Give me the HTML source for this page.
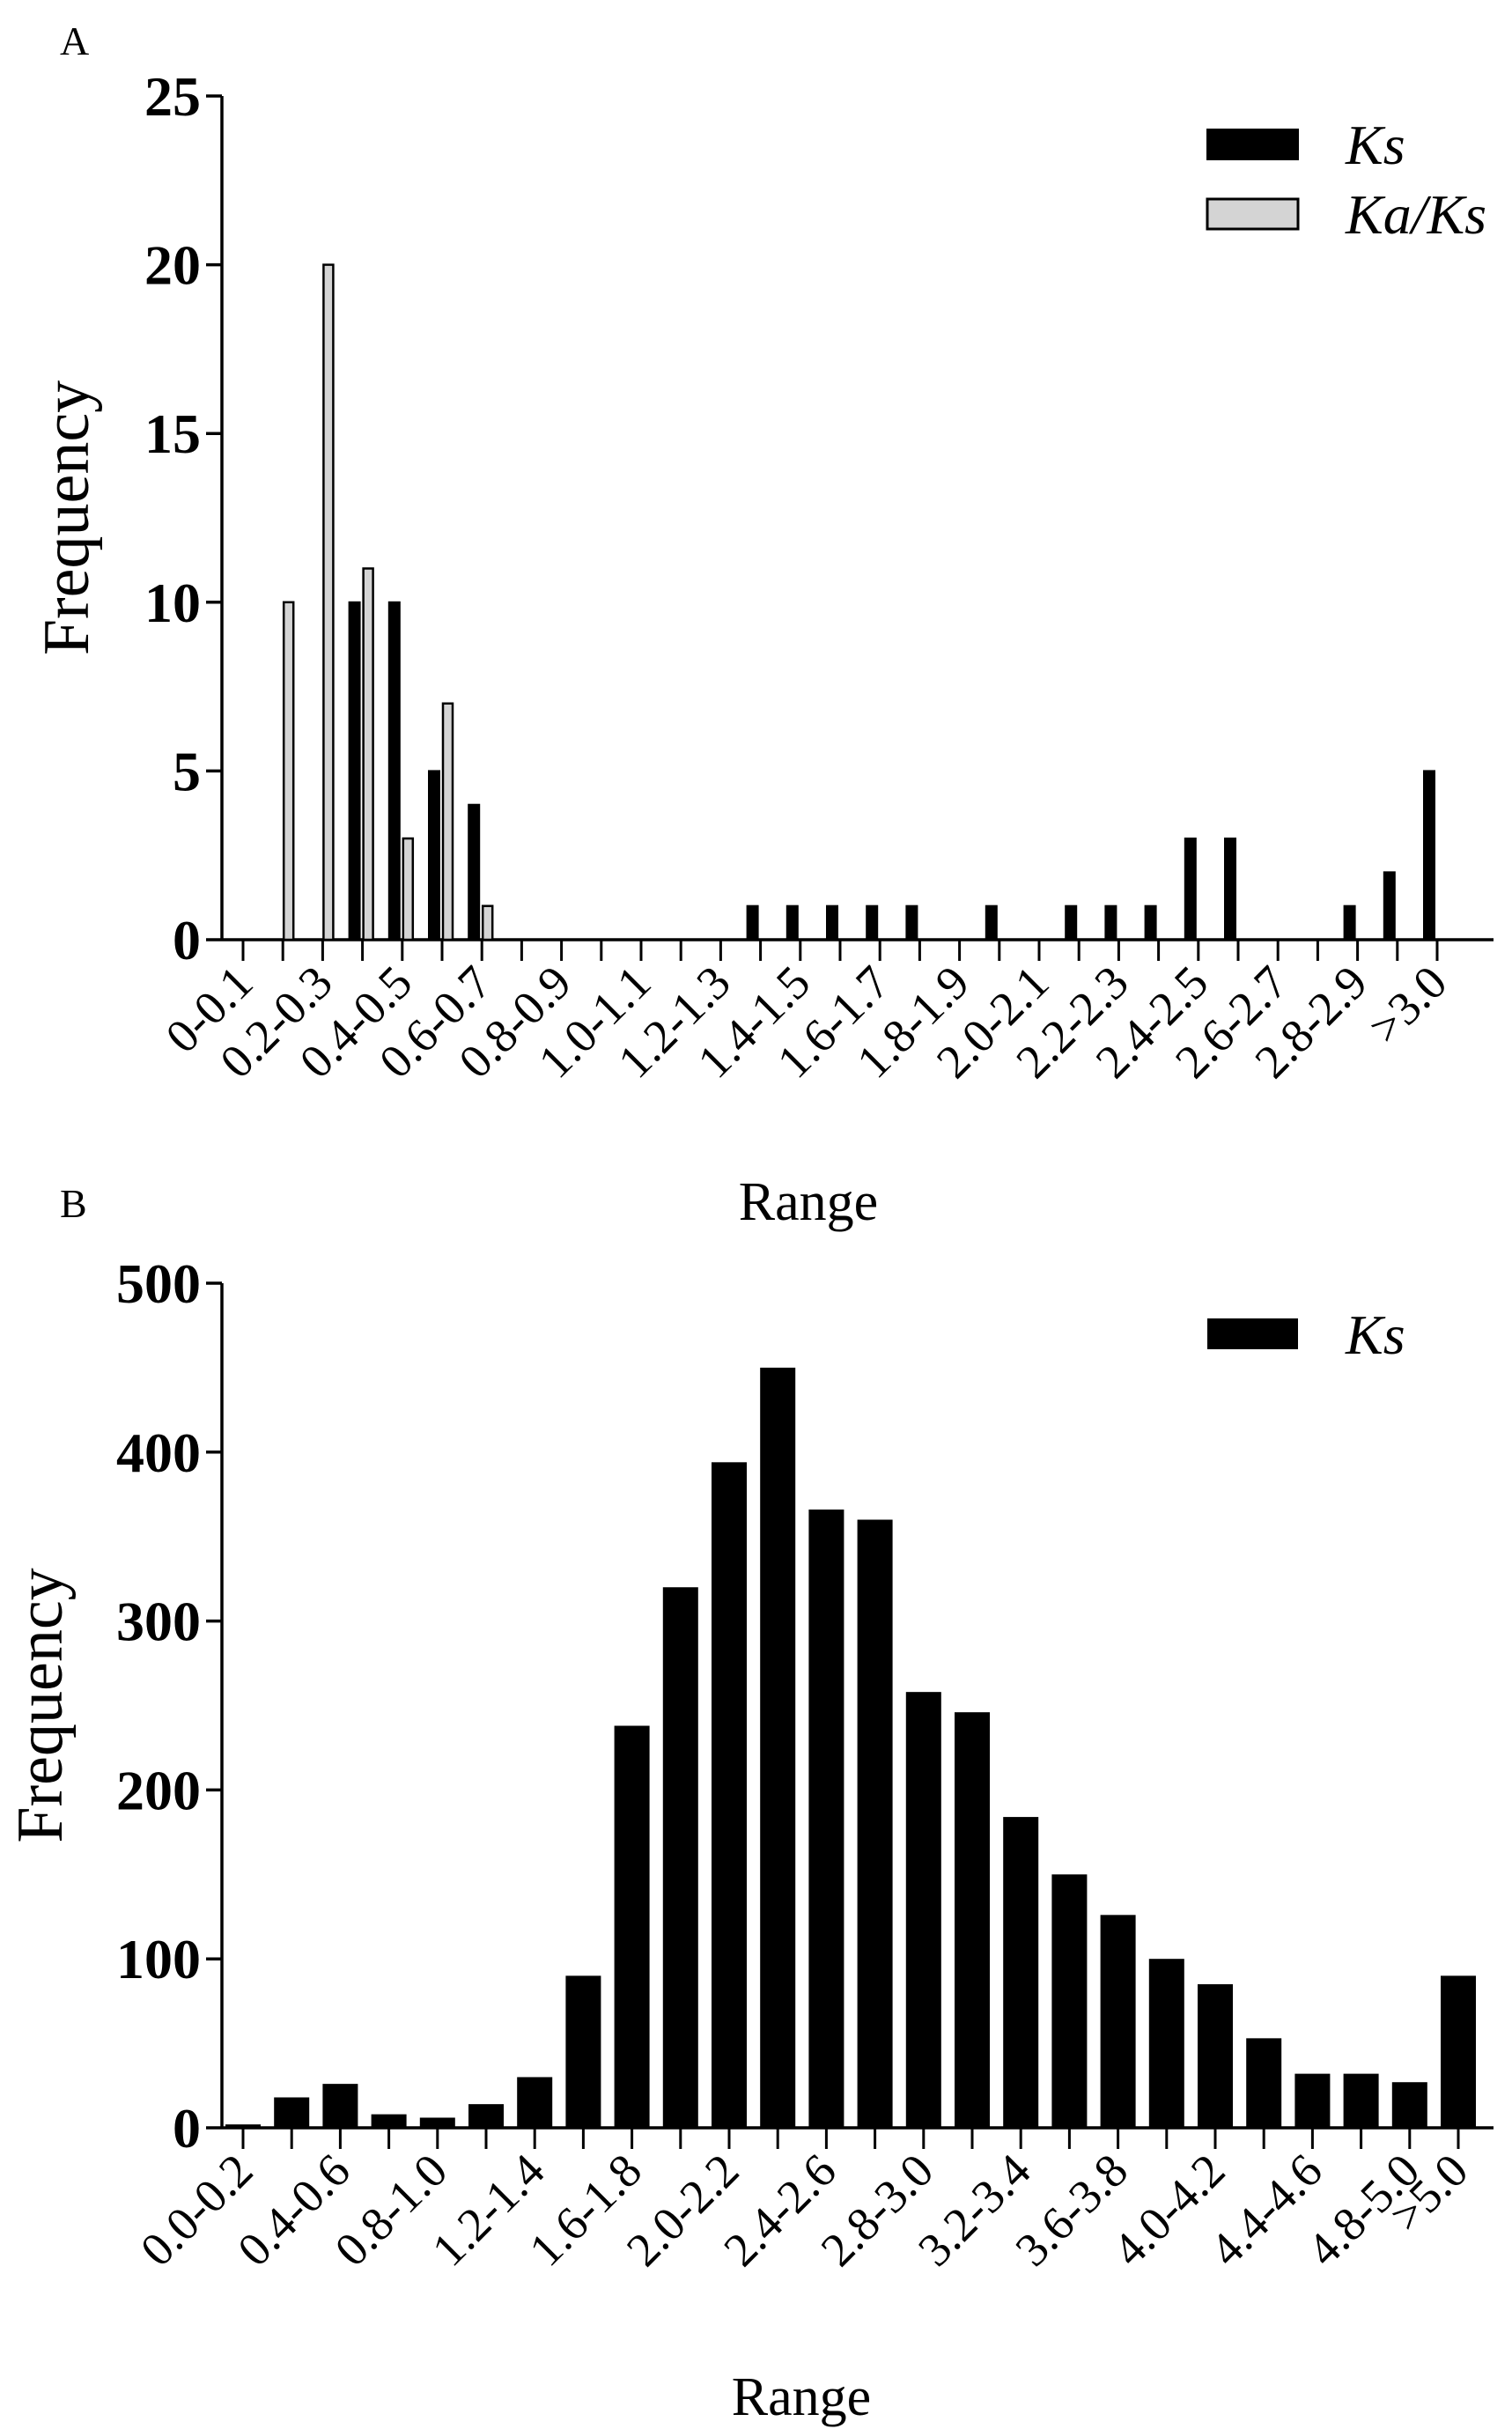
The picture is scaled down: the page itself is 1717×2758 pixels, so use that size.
<!DOCTYPE html>
<html><head><meta charset="utf-8"><style>
html,body{margin:0;padding:0;background:#fff}
svg{display:block}
text{font-family:"Liberation Serif",serif;fill:#000}
</style></head><body>
<svg id="fig" width="1717" height="2758" viewBox="0 0 1717 2758" xmlns="http://www.w3.org/2000/svg">
<text x="68" y="62" font-size="46">A</text>
<text x="68" y="1382" font-size="46">B</text>
<g id="chartA"></g>
<g id="chartB"></g>
</svg>
<script>
const NS="http://www.w3.org/2000/svg";
const catsA=["0-0.1","0.1-0.2","0.2-0.3","0.3-0.4","0.4-0.5","0.5-0.6","0.6-0.7","0.7-0.8","0.8-0.9","0.9-1.0","1.0-1.1","1.1-1.2","1.2-1.3","1.3-1.4","1.4-1.5","1.5-1.6","1.6-1.7","1.7-1.8","1.8-1.9","1.9-2.0","2.0-2.1","2.1-2.2","2.2-2.3","2.3-2.4","2.4-2.5","2.5-2.6","2.6-2.7","2.7-2.8","2.8-2.9","2.9-3.0",">3.0"];
const ksA=[0,0,0,10,10,5,4,0,0,0,0,0,0,1,1,1,1,1,0,1,0,1,1,1,3,3,0,0,1,2,5];
const kakaA=[0,10,20,11,3,7,1,0,0,0,0,0,0,0,0,0,0,0,0,0,0,0,0,0,0,0,0,0,0,0,0];
const ticksA=[0,5,10,15,20,25];
const catsB=["0.0-0.2","0.2-0.4","0.4-0.6","0.6-0.8","0.8-1.0","1.0-1.2","1.2-1.4","1.4-1.6","1.6-1.8","1.8-2.0","2.0-2.2","2.2-2.4","2.4-2.6","2.6-2.8","2.8-3.0","3.0-3.2","3.2-3.4","3.4-3.6","3.6-3.8","3.8-4.0","4.0-4.2","4.2-4.4","4.4-4.6","4.6-4.8","4.8-5.0",">5.0"];
const ksB=[2,18,26,8,6,14,30,90,238,320,394,450,366,360,258,246,184,150,126,100,85,53,32,32,27,90];
const ticksB=[0,100,200,300,400,500];

function el(parent,tag,attrs,txt){const e=document.createElementNS(NS,tag);for(const k in attrs)e.setAttribute(k,attrs[k]);if(txt!==undefined)e.textContent=txt;parent.appendChild(e);return e;}

function axes(g,o){
  const y=v=>o.y0-(v/o.ymax)*(o.y0-o.ytop);
  const x=i=>o.x0+i*o.dx;
  const ya=el(g,'line',{x1:o.ax,y1:o.ytop,x2:o.ax,y2:o.y0,stroke:'#000','stroke-width':3.5});
  
  
  const xa=el(g,'line',{x1:o.ax,y1:o.y0,x2:o.xend,y2:o.y0,stroke:'#000','stroke-width':3.5});
  
  
  o.yt.forEach(v=>{
    const t=el(g,'line',{x1:o.ax-18,y1:y(v),x2:o.ax,y2:y(v),stroke:'#000','stroke-width':3.5});
    
    
    const l=el(g,'text',{x:o.ax-24,y:y(v)+22,'font-size':64,'font-weight':'bold','text-anchor':'end'},String(v));
    
    
  });
  o.cats.forEach((c,i)=>{
    const t=el(g,'line',{x1:x(i),y1:o.y0,x2:x(i),y2:o.y0+24,stroke:'#000','stroke-width':3});
    
    
    if(i%2===0||i===o.cats.length-1){
      const tx=x(i)+14, ty=o.y0+52;
      const l=el(g,'text',{x:tx,y:ty,'font-size':54,'text-anchor':'end',transform:`rotate(-45 ${tx} ${ty})`},c);
      
      
    }
  });
  const yl=el(g,'text',{x:0,y:0,'font-size':74,'text-anchor':'middle',transform:`translate(${o.ylx},${(o.ytop+o.y0)/2}) rotate(-90)`},'Frequency');
  
  
  const xl=el(g,'text',{x:o.xlx,y:o.xly,'font-size':62,'text-anchor':'middle'},'Range');
  
  
  return {x,y};
}

// Chart A
(function(){
  const g=document.getElementById('chartA');
  const o={ax:252,ytop:109,y0:1067,ymax:25,x0:276,dx:45.2,xend:1696,yt:ticksA,cats:catsA,ylx:100,xlx:918,xly:1385};
  const s=axes(g,o);
  ksA.forEach((v,i)=>{ if(v<=0) return;
    const r=el(g,'rect',{x:s.x(i)-15,y:s.y(v),width:12,height:o.y0-s.y(v),fill:'#000',stroke:'#000','stroke-width':2});
    
    
  });
  kakaA.forEach((v,i)=>{ if(v<=0) return;
    const r=el(g,'rect',{x:s.x(i)+1,y:s.y(v),width:11,height:o.y0-s.y(v),fill:'#d4d4d4',stroke:'#000','stroke-width':2.5});
    
    
  });
  const l1=el(g,'rect',{x:1371,y:147,width:103,height:34,fill:'#000',stroke:'#000','stroke-width':2});
  
  
  const t1=el(g,'text',{x:1528,y:186,'font-size':64,'font-style':'italic'},'Ks');
  
  
  const l2=el(g,'rect',{x:1371,y:226,width:103,height:34,fill:'#d4d4d4',stroke:'#000','stroke-width':3});
  
  
  const t2=el(g,'text',{x:1528,y:265,'font-size':64,'font-style':'italic'},'Ka/Ks');
  
  
})();

// Chart B
(function(){
  const g=document.getElementById('chartB');
  const o={ax:252,ytop:1457,y0:2416,ymax:500,x0:276,dx:55.2,xend:1696,yt:ticksB,cats:catsB,ylx:70,xlx:910,xly:2742};
  const s=axes(g,o);
  ksB.forEach((v,i)=>{
    const r=el(g,'rect',{x:s.x(i)-20,y:s.y(v),width:40,height:o.y0-s.y(v),fill:'#000'});
    
    
  });
  const l1=el(g,'rect',{x:1371,y:1497,width:103,height:35,fill:'#000'});
  
  
  const t1=el(g,'text',{x:1528,y:1537,'font-size':64,'font-style':'italic'},'Ks');
  
  
})();
</script>
</body></html>
